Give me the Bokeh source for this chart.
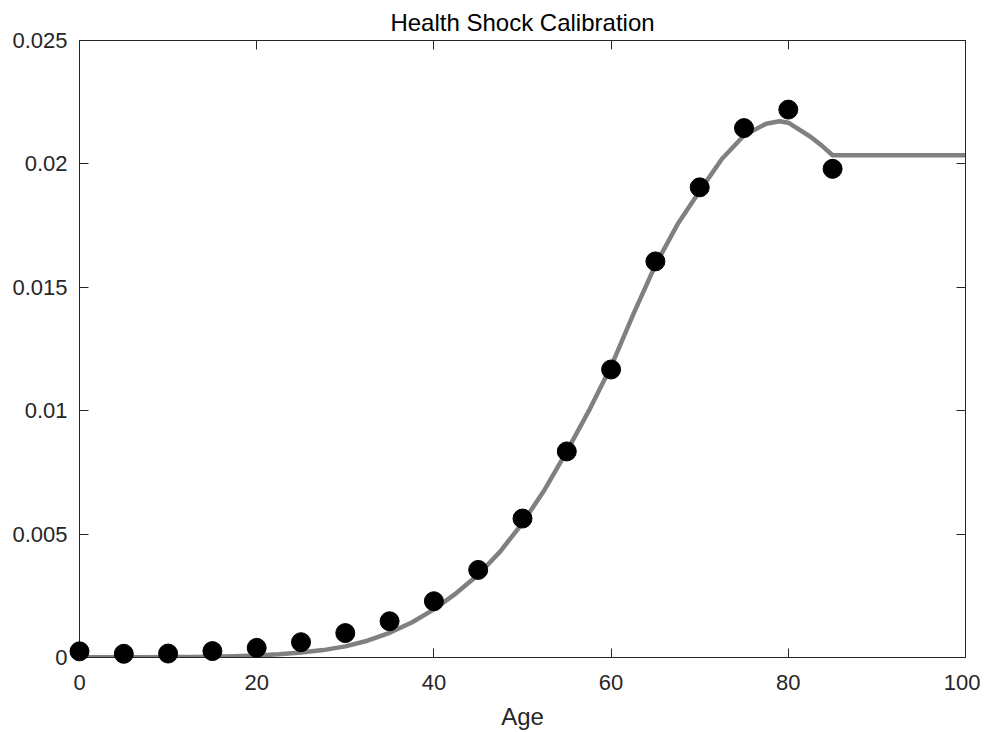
from bokeh.plotting import figure
from bokeh.models import FixedTicker, LinearAxis, Range1d
from bokeh.embed import file_html
from bokeh.resources import INLINE

# Observed data points
ages = [0, 5, 10, 15, 20, 25, 30, 35, 40, 45, 50, 55, 60, 65, 70, 75, 80, 85]
data_rates = [0.00025, 0.00015, 0.00016, 0.00026, 0.00039, 0.00062, 0.00099, 0.00147,
              0.00228, 0.00355, 0.00563, 0.00835, 0.01167, 0.01605, 0.01905, 0.02145,
              0.02220, 0.01980]

# Calibrated curve
curve_ages = [0, 2.5, 5, 7.5, 10, 12.5, 15, 17.5, 20, 22.5, 25, 27.5, 30, 32.5, 35, 37.5,
              40, 42.5, 45, 47.5, 50, 52.5, 55, 57.5, 60, 62.5, 65, 67.5, 70, 72.5, 75,
              77.5, 79, 80, 82.5, 83.75, 85, 100]
curve_values = [0.00001, 0.00001, 0.00001, 0.00001, 0.00002, 0.00002, 0.00003, 0.00005,
                0.00008, 0.00013, 0.00020, 0.00030, 0.00045, 0.00068, 0.00100, 0.00142,
                0.00195, 0.00260, 0.00335, 0.00430, 0.00545, 0.00680, 0.00835, 0.01000,
                0.01180, 0.01390, 0.01590, 0.01755, 0.01890, 0.02020, 0.02115, 0.02163,
                0.02173, 0.02167, 0.02110, 0.02075, 0.02035, 0.02035]

x_ticks = [0, 20, 40, 60, 80, 100]
y_ticks = [0, 0.005, 0.01, 0.015, 0.02, 0.025]
y_tick_labels = ["0", "0.005", "0.01", "0.015", "0.02", "0.025"]

FONT = "Liberation Sans"
AX = "#262626"

p = figure(width=980, height=732, output_backend="svg", toolbar_location=None,
           x_range=Range1d(0, 100), y_range=Range1d(0, 0.025),
           min_border_left=79, min_border_right=15, min_border_top=40, min_border_bottom=75,
           title="Health Shock Calibration")
p.title.align = "center"
p.title.text_font = FONT
p.title.text_font_size = "24px"
p.title.text_font_style = "normal"
p.title.text_color = "#000000"
p.grid.visible = False
p.outline_line_color = AX
p.outline_line_width = 1

p.line(curve_ages, curve_values, line_color="#808080", line_width=4.5, line_join="round")
p.scatter(ages, data_rates, size=19, fill_color="black", line_color="black", level="overlay")

def style_axis(ax, labels=True):
    ax.axis_line_color = AX
    ax.major_tick_line_color = AX
    ax.major_tick_in = 9
    ax.major_tick_out = 0
    ax.minor_tick_line_color = None
    ax.major_label_text_font = FONT
    ax.major_label_text_font_size = "22px"
    ax.major_label_text_color = AX
    if not labels:
        ax.major_label_text_font_size = "0px"
        ax.major_label_standoff = 0

xa = p.xaxis[0]
xa.ticker = FixedTicker(ticks=x_ticks)
style_axis(xa)
xa.major_label_standoff = 17
xa.axis_label = "Age"
xa.axis_label_text_font = FONT
xa.axis_label_text_font_size = "24px"
xa.axis_label_text_font_style = "normal"
xa.axis_label_text_color = AX
xa.axis_label_standoff = 10

ya = p.yaxis[0]
ya.ticker = FixedTicker(ticks=y_ticks)
ya.major_label_overrides = {t: l for t, l in zip(y_ticks, y_tick_labels)}
style_axis(ya)
ya.major_label_standoff = 12

top = LinearAxis(ticker=FixedTicker(ticks=x_ticks))
style_axis(top, labels=False)
p.add_layout(top, "above")
right = LinearAxis(ticker=FixedTicker(ticks=y_ticks))
style_axis(right, labels=False)
p.add_layout(right, "right")

open("out.html", "w").write(file_html(p, INLINE))
